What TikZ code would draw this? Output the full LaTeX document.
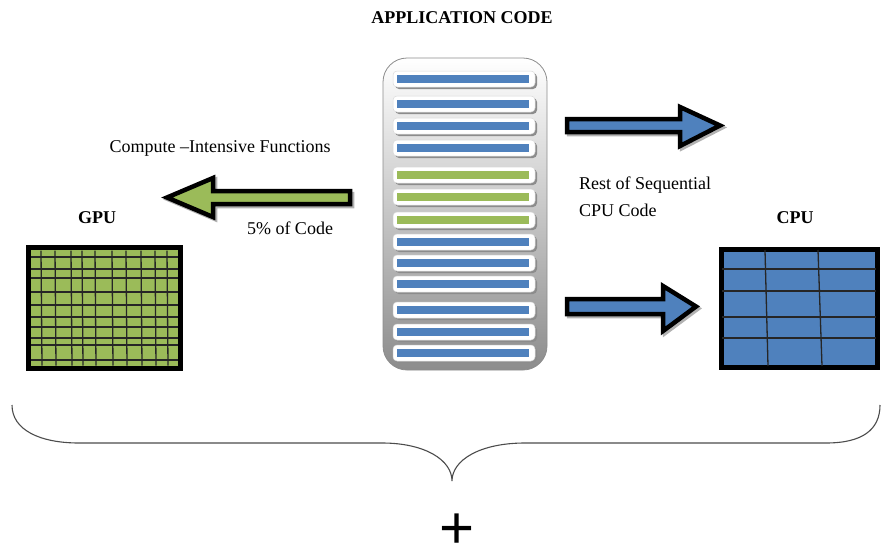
\documentclass[tikz,border=0pt]{standalone}
\usepackage{fontspec}
\setmainfont{Liberation Serif}
\newfontfamily\plusfont{Liberation Sans}
\definecolor{cblue}{HTML}{4F81BD}
\definecolor{cgreen}{HTML}{9BBB59}
\tikzset{
  lbl/.style={font=\fontsize{18}{21}\selectfont, inner sep=0pt},
  blbl/.style={font=\fontsize{18}{21}\selectfont\bfseries, inner sep=0pt},
  blockarrow/.style={draw=black, line width=4.5pt, line join=miter, miter limit=10},
  arrowshadow/.style={fill=black!30, draw=black!30, line width=4.5pt, line join=miter, miter limit=10},
  gridbox/.style={draw=black, line width=5pt, inner sep=0pt},
  gridline/.style={draw=black!85, line width=1.3pt},
  pill/.style={fill=white, draw=black!15, line width=0.5pt, rounded corners=4pt},
  pillshadow/.style={fill=black!45, rounded corners=4pt},
  bracepath/.style={draw=black!70, line width=1.1pt}
}
\begin{document}
\begin{tikzpicture}[x=1pt,y=-1pt]
\useasboundingbox (0,0) rectangle (881,555);

% titles and labels
\node[blbl] (title) at (462,18) {APPLICATION CODE};
\node[lbl] (cif) at (220,148) {Compute –Intensive Functions};
\node[blbl] (gpulbl) at (97,218) {GPU};
\node[lbl] (five) at (290,228) {5\% of Code};
\node[lbl, anchor=west] (rest1) at (579,185) {Rest of Sequential};
\node[lbl, anchor=west] (rest2) at (579,210) {CPU Code};
\node[blbl] (cpulbl) at (795,218) {CPU};

% application code container
\node[draw=black!45, line width=0.8pt, rounded corners=24pt, minimum width=164pt,
      minimum height=312pt, top color=white, middle color=white!92!black,
      bottom color=black!45, inner sep=0pt] (app) at (465,214) {};

% code bars
\foreach \y/\c in {79/cblue,104/cblue,126/cblue,148/cblue,175/cgreen,197/cgreen,220/cgreen,
                   242/cblue,263/cblue,284/cblue,310/cblue,332/cblue,353/cblue}{
  \path[pillshadow] (395,\y-6) rectangle (537,\y+10);
  \path[pill] (393,\y-8) rectangle (535,\y+8);
  \fill[\c] (397,\y-4) rectangle (529,\y+4);
}

% GPU grid
\node[gridbox, fill=cgreen, minimum width=152pt, minimum height=121pt] (gpu) at (104.5,308) {};
\foreach \x in {41,55,71,82,95,112,126,141,155,167}{
  \draw[gridline] (\x,250.5) -- (\x+1,365.5);
}
\foreach \y in {257,269,278,292,305,317,327,338,345,360}{
  \draw[gridline] (31,\y) -- (178,\y);
}
\draw[gridbox] (28.5,247.5) rectangle (180.5,368.5);

% CPU grid
\node[gridbox, fill=cblue, minimum width=156pt, minimum height=118pt] (cpu) at (799,308) {};
\draw[gridline] (765,250) -- (768,366);
\draw[gridline] (818,250) -- (822,366);
\foreach \y in {269,291,317,338}{
  \draw[gridline] (722,\y) -- (876,\y);
}

% block arrows
\path[arrowshadow] (352,194) -- (215,194) -- (215,180) -- (169,199.5) -- (215,219) -- (215,206) -- (352,206) -- cycle;
\path[blockarrow, fill=cgreen] (350,191) -- (213,191) -- (213,178) -- (167,197.5) -- (213,217) -- (213,204) -- (350,204) -- cycle;

\path[arrowshadow] (569,121) -- (682,121) -- (682,109) -- (722,127.5) -- (682,148) -- (682,134) -- (569,134) -- cycle;
\path[blockarrow, fill=cblue] (567,119) -- (680,119) -- (680,107) -- (720,125.5) -- (680,146) -- (680,132) -- (567,132) -- cycle;

\path[arrowshadow] (569,301) -- (665,301) -- (665,288) -- (698,308.5) -- (665,333) -- (665,316) -- (569,316) -- cycle;
\path[blockarrow, fill=cblue] (567,299) -- (663,299) -- (663,286) -- (696,306.5) -- (663,331) -- (663,314) -- (567,314) -- cycle;

% brace
\path[bracepath] (12,405) .. controls (12,430) and (40,443) .. (79,443) -- (382,443)
  .. controls (425,443) and (452,460) .. (452,481)
  .. controls (452,460) and (480,443) .. (525,443) -- (826,443)
  .. controls (862,443) and (880,430) .. (880,405);

% plus
\node[font=\plusfont\fontsize{60}{60}\selectfont, inner sep=0pt] (plus) at (457,531) {+};
\end{tikzpicture}
\end{document}
